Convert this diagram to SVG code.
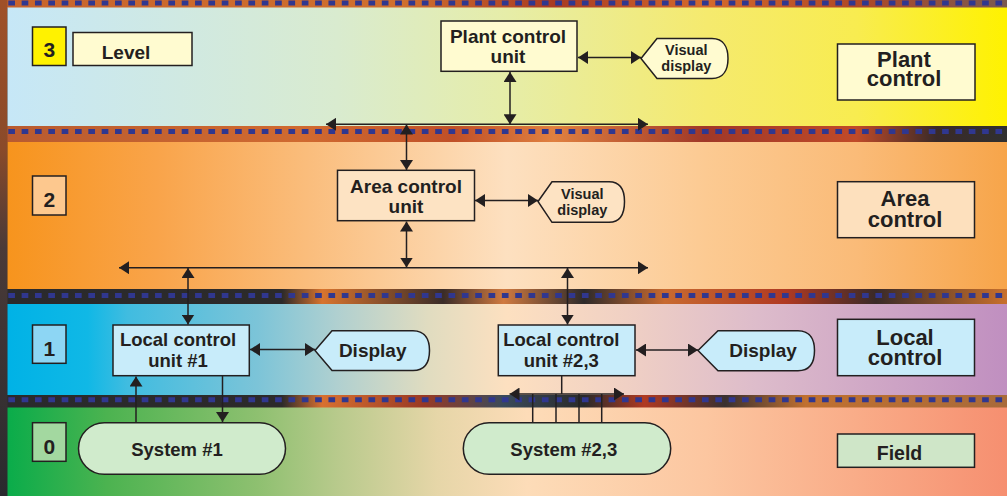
<svg xmlns="http://www.w3.org/2000/svg" width="1007" height="496" viewBox="0 0 1007 496">
<defs>
<linearGradient id="g3" x1="0" y1="0" x2="1" y2="0">
<stop offset="0" stop-color="#c6e7f7"/><stop offset="0.33" stop-color="#d9ebcf"/><stop offset="0.5" stop-color="#e6eda8"/><stop offset="0.7" stop-color="#f5ea6e"/><stop offset="0.85" stop-color="#f8ec50"/><stop offset="1" stop-color="#fff200"/>
</linearGradient>
<linearGradient id="g2" x1="0" y1="0" x2="1" y2="0">
<stop offset="0" stop-color="#f7941d"/><stop offset="0.15" stop-color="#f9a44a"/><stop offset="0.3" stop-color="#fabd7c"/><stop offset="0.5" stop-color="#fde0c0"/><stop offset="0.7" stop-color="#fcca92"/><stop offset="0.85" stop-color="#fabb78"/><stop offset="1" stop-color="#f7a54a"/>
</linearGradient>
<linearGradient id="g1" x1="0" y1="0" x2="1" y2="0">
<stop offset="0" stop-color="#00b2e6"/><stop offset="0.08" stop-color="#10b8e6"/><stop offset="0.12" stop-color="#40bce0"/><stop offset="0.25" stop-color="#7cc4d8"/><stop offset="0.33" stop-color="#b0d0d0"/><stop offset="0.42" stop-color="#e0dcc0"/><stop offset="0.5" stop-color="#fde0c0"/><stop offset="0.62" stop-color="#f0d0c4"/><stop offset="0.75" stop-color="#ddbccb"/><stop offset="1" stop-color="#c08fc0"/>
</linearGradient>
<linearGradient id="g0" x1="0" y1="0" x2="1" y2="0">
<stop offset="0" stop-color="#0aac4a"/><stop offset="0.1" stop-color="#4cb350"/><stop offset="0.25" stop-color="#8ec070"/><stop offset="0.33" stop-color="#b8ca8c"/><stop offset="0.43" stop-color="#e6d6a8"/><stop offset="0.52" stop-color="#fddcb8"/><stop offset="0.7" stop-color="#fcc6a0"/><stop offset="0.85" stop-color="#f9ac88"/><stop offset="1" stop-color="#f68f70"/>
</linearGradient>
<linearGradient id="s0" x1="0" y1="0" x2="1" y2="0">
<stop offset="0" stop-color="#c8642c"/><stop offset="0.4" stop-color="#d0702e"/><stop offset="0.55" stop-color="#a83a22"/><stop offset="0.7" stop-color="#d46a2c"/><stop offset="0.85" stop-color="#b04826"/><stop offset="1" stop-color="#7a5a50"/>
</linearGradient>
<linearGradient id="s1" x1="0" y1="0" x2="1" y2="0">
<stop offset="0" stop-color="#b85a30"/><stop offset="0.3" stop-color="#d06a30"/><stop offset="0.45" stop-color="#c05028"/><stop offset="0.55" stop-color="#e08040"/><stop offset="0.7" stop-color="#a03828"/><stop offset="0.85" stop-color="#c04a28"/><stop offset="0.93" stop-color="#3a2a28"/><stop offset="1" stop-color="#303030"/>
</linearGradient>
<linearGradient id="s2" x1="0" y1="0" x2="1" y2="0">
<stop offset="0" stop-color="#2a2a2c"/><stop offset="0.28" stop-color="#2c2a2a"/><stop offset="0.32" stop-color="#d8742e"/><stop offset="0.44" stop-color="#3a2c28"/><stop offset="0.5" stop-color="#d07a40"/><stop offset="0.58" stop-color="#2e2a2a"/><stop offset="0.66" stop-color="#c86a30"/><stop offset="0.78" stop-color="#b03a22"/><stop offset="0.87" stop-color="#3a2a28"/><stop offset="1" stop-color="#c8702c"/>
</linearGradient>
<linearGradient id="s3" x1="0" y1="0" x2="1" y2="0">
<stop offset="0" stop-color="#2a2a2c"/><stop offset="0.28" stop-color="#2c2a2a"/><stop offset="0.32" stop-color="#d87030"/><stop offset="0.42" stop-color="#9a3a24"/><stop offset="0.5" stop-color="#3a4a5a"/><stop offset="0.58" stop-color="#2a2a2a"/><stop offset="0.64" stop-color="#b03a22"/><stop offset="0.72" stop-color="#3a3030"/><stop offset="0.8" stop-color="#c07030"/><stop offset="1" stop-color="#a86a3a"/>
</linearGradient>
<linearGradient id="sl" x1="0" y1="0" x2="0" y2="1">
<stop offset="0" stop-color="#a05028"/><stop offset="0.3" stop-color="#8a4a2a"/><stop offset="0.5" stop-color="#4a3a38"/><stop offset="1" stop-color="#2a2a2e"/>
</linearGradient>
<marker id="ah" viewBox="0 0 10 13" refX="10" refY="6.5" markerWidth="10" markerHeight="13" markerUnits="userSpaceOnUse" orient="auto-start-reverse">
<path d="M0,0 L10,6.5 L0,13 Z" fill="#231f20"/>
</marker>
<style>
.box{stroke:#231f20;stroke-width:1.5}
.t{font-family:"Liberation Sans",Arial,sans-serif;font-weight:bold;fill:#231f20;text-anchor:middle}
.c{stroke:#231f20;stroke-width:1.5;fill:none}
.d{marker-start:url(#ah);marker-end:url(#ah)}
.e{marker-end:url(#ah)}
.dash{stroke:#30378f;stroke-width:5;stroke-dasharray:6.67 6.67;fill:none}
</style>
</defs>

<g id="background">
<rect x="0" y="0" width="1007" height="496" fill="#2a2a2e"/>
<rect x="0" y="0" width="1007" height="8" fill="url(#s0)"/>
<rect x="0" y="126" width="1007" height="16" fill="url(#s1)"/>
<rect x="0" y="289" width="1007" height="15" fill="url(#s2)"/>
<rect x="0" y="395" width="1007" height="13" fill="url(#s3)"/>
<rect x="0" y="0" width="7.5" height="496" fill="url(#sl)"/>
<rect x="7.5" y="7.5" width="999.5" height="118.5" fill="url(#g3)"/>
<rect x="7.5" y="142" width="999.5" height="147" fill="url(#g2)"/>
<rect x="7.5" y="304" width="999.5" height="91" fill="url(#g1)"/>
<rect x="7.5" y="407.5" width="999.5" height="88.5" fill="url(#g0)"/>
<line class="dash" x1="8.3" y1="3" x2="1007" y2="3"/>
<line class="dash" x1="8.3" y1="131.5" x2="1007" y2="131.5"/>
<line class="dash" x1="8.3" y1="295.5" x2="1007" y2="295.5"/>
<line class="dash" x1="8.3" y1="399.8" x2="1007" y2="399.8"/>
</g>

<g id="connectors">
<line class="c d" x1="578" y1="57.5" x2="641" y2="57.5"/>
<line class="c d" x1="510" y1="72" x2="510" y2="124.3"/>
<line class="c d" x1="326" y1="124.3" x2="648" y2="124.3"/>
<line class="c d" x1="406.5" y1="124.5" x2="406.5" y2="170"/>
<line class="c d" x1="475" y1="200.5" x2="538" y2="200.5"/>
<line class="c d" x1="406.5" y1="221.5" x2="406.5" y2="267.5"/>
<line class="c d" x1="119" y1="267.7" x2="648" y2="267.7"/>
<line class="c d" x1="188" y1="268" x2="188" y2="324.5"/>
<line class="c d" x1="567.5" y1="268" x2="567.5" y2="324.5"/>
<line class="c d" x1="250" y1="349.5" x2="315" y2="349.5"/>
<line class="c d" x1="636" y1="350" x2="698" y2="350"/>
<line class="c e" x1="136" y1="422.7" x2="136" y2="376.5"/>
<line class="c e" x1="222.5" y1="376" x2="222.5" y2="422"/>
<line class="c" x1="561.7" y1="376" x2="561.7" y2="394"/>
<line class="c d" x1="509.5" y1="394" x2="624" y2="394"/>
<line class="c" x1="532.7" y1="394" x2="532.7" y2="423"/>
<line class="c" x1="556" y1="394" x2="556" y2="423"/>
<line class="c" x1="579" y1="394" x2="579" y2="423"/>
<line class="c" x1="601.7" y1="394" x2="601.7" y2="423"/>
</g>

<g id="level3-num"><rect class="box" x="32.5" y="27" width="33.5" height="38.5" fill="#fff200"/><text class="t" x="49.3" y="57.3" font-size="21">3</text></g>
<g id="level-label"><rect class="box" x="73" y="32.5" width="119" height="33" fill="#fffbd0"/><text class="t" x="126" y="59" font-size="19">Level</text></g>
<g id="plant-control-unit"><rect class="box" x="441" y="21" width="136" height="50.3" fill="#fffbd0"/><text class="t" x="508" y="43.3" font-size="19">Plant control</text><text class="t" x="508" y="63.3" font-size="19">unit</text></g>
<g id="visual-display-3"><path class="box" d="M641,58.5 L657,38.5 H712 C724,38.5 728,48 728,58.5 C728,69 724,78.5 712,78.5 H657 Z" fill="#fffbd0"/><text class="t" x="686.3" y="55" font-size="14.5">Visual</text><text class="t" x="686.3" y="70.5" font-size="14.5">display</text></g>
<g id="plant-control-label"><rect class="box" x="837.5" y="44" width="137.5" height="56" fill="#fffbd0"/><text class="t" x="904" y="66.7" font-size="22">Plant</text><text class="t" x="904" y="86" font-size="22">control</text></g>

<g id="level2-num"><rect class="box" x="32.5" y="176" width="33.5" height="39" fill="#fdc88e"/><text class="t" x="49.3" y="206.7" font-size="21">2</text></g>
<g id="area-control-unit"><rect class="box" x="337.5" y="170.3" width="137" height="50.4" fill="#fde3c3"/><text class="t" x="406" y="192.7" font-size="19">Area control</text><text class="t" x="406" y="213.3" font-size="19">unit</text></g>
<g id="visual-display-2"><path class="box" d="M538,201.5 L552,181.7 H609 C621,181.7 624.5,191.5 624.5,201.5 C624.5,212 621,222.3 609,222.3 H552 Z" fill="#fde3c3"/><text class="t" x="582.3" y="199.3" font-size="14.5">Visual</text><text class="t" x="582.3" y="215" font-size="14.5">display</text></g>
<g id="area-control-label"><rect class="box" x="837.5" y="181.7" width="137" height="56" fill="#fde0bd"/><text class="t" x="905" y="206" font-size="22">Area</text><text class="t" x="905" y="226.7" font-size="22">control</text></g>

<g id="level1-num"><rect class="box" x="32.5" y="325" width="33.5" height="38.3" fill="#8dd6f4"/><text class="t" x="49.3" y="356" font-size="21">1</text></g>
<g id="local-control-unit-1"><rect class="box" x="113" y="325" width="136.3" height="50.7" fill="#c8ecfa"/><text class="t" x="178" y="345.7" font-size="18.5">Local control</text><text class="t" x="178" y="367.3" font-size="18.5">unit #1</text></g>
<g id="display-1"><path class="box" d="M315,350.5 L332,330.7 H413 C426,330.7 429.5,341 429.5,350.5 C429.5,360.5 426,370.5 413,370.5 H332 Z" fill="#c8ecfa"/><text class="t" x="372.7" y="356.7" font-size="19">Display</text></g>
<g id="local-control-unit-23"><rect class="box" x="498.3" y="325" width="136.7" height="50.7" fill="#c8ecfa"/><text class="t" x="561.3" y="345.7" font-size="18.5">Local control</text><text class="t" x="561.3" y="367.3" font-size="18.5">unit #2,3</text></g>
<g id="display-2"><path class="box" d="M698,350.5 L718,330.7 H798 C811,330.7 814.5,341 814.5,350.5 C814.5,360.5 811,370.7 798,370.7 H718 Z" fill="#c8ecfa"/><text class="t" x="763" y="356.7" font-size="19">Display</text></g>
<g id="local-control-label"><rect class="box" x="837.5" y="319.3" width="137" height="56.4" fill="#c8ecfa"/><text class="t" x="905" y="345" font-size="22">Local</text><text class="t" x="905" y="365" font-size="22">control</text></g>

<g id="level0-num"><rect class="box" x="32.5" y="422.7" width="33.5" height="38.6" fill="#a3d8a0"/><text class="t" x="49.3" y="454" font-size="21">0</text></g>
<g id="system-1"><rect class="box" x="78.5" y="422.7" width="207" height="51.6" rx="25.8" fill="#d0ebcc"/><text class="t" x="177" y="455.7" font-size="18.5">System #1</text></g>
<g id="system-23"><rect class="box" x="463.3" y="422.7" width="207.4" height="51.6" rx="25.8" fill="#d0ebcc"/><text class="t" x="563.8" y="455.7" font-size="18.5">System #2,3</text></g>
<g id="field-label"><rect class="box" x="837.5" y="434" width="137" height="33.3" fill="#cfe6c8"/><text class="t" x="899.5" y="460" font-size="19.5">Field</text></g>
</svg>
